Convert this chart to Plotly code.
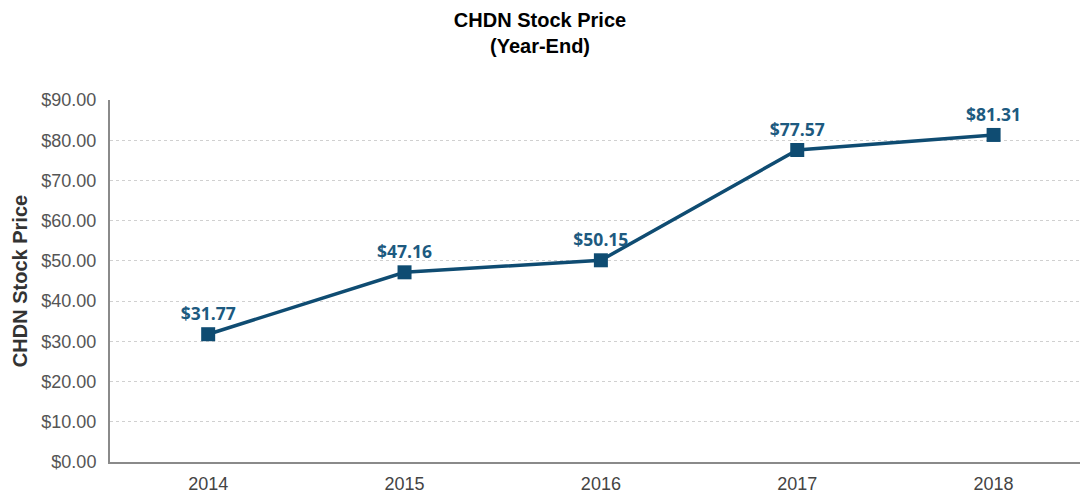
import plotly.graph_objects as go

years = ["2014", "2015", "2016", "2017", "2018"]
prices = [31.77, 47.16, 50.15, 77.57, 81.31]
labels = ["$31.77", "$47.16", "$50.15", "$77.57", "$81.31"]

color = "#0f4c72"

fig = go.Figure()
fig.add_trace(go.Scatter(
    x=years, y=prices, mode="lines+markers+text",
    line=dict(color=color, width=3.5),
    marker=dict(symbol="square", size=14, color=color),
    text=labels, textposition="top center",
    textfont=dict(family="Open Sans, sans-serif", size=17.5, color="#1d5a80", weight="bold"),
    cliponaxis=False, showlegend=False,
))

fig.update_layout(
    width=1080, height=496,
    paper_bgcolor="white", plot_bgcolor="white",
    margin=dict(l=110, r=0, t=100, b=34),
    title=dict(text="<b>CHDN Stock Price<br>(Year-End)</b>", x=0.5, xanchor="center",
               y=0.945, yanchor="middle",
               font=dict(family="Liberation Sans, Arial, sans-serif", size=20, color="black")),
    font=dict(family="Liberation Sans, Arial, sans-serif"),
)
fig.update_xaxes(
    type="category", range=[-0.5, 4.44],
    showline=True, linecolor="#8a8a8a", linewidth=2,
    showgrid=False, ticks="", tickfont=dict(size=18, color="#444"),
    ticklabelstandoff=4,
)
fig.update_yaxes(
    range=[0, 90], dtick=10, tickprefix="$", tickformat=".2f",
    showline=True, linecolor="#8a8a8a", linewidth=2,
    showgrid=True, gridcolor="#d0d0d0", griddash="dot", gridwidth=1,
    zeroline=False, ticks="", tickfont=dict(size=18, color="#555"),
    ticklabelstandoff=8,
    title=dict(text="<b>CHDN Stock Price</b>", font=dict(size=20, color="#333"), standoff=8),
)

fig.write_html("out.html", config={"displayModeBar": False},
               post_script="document.body.style.margin='0';document.body.style.overflow='hidden';")
